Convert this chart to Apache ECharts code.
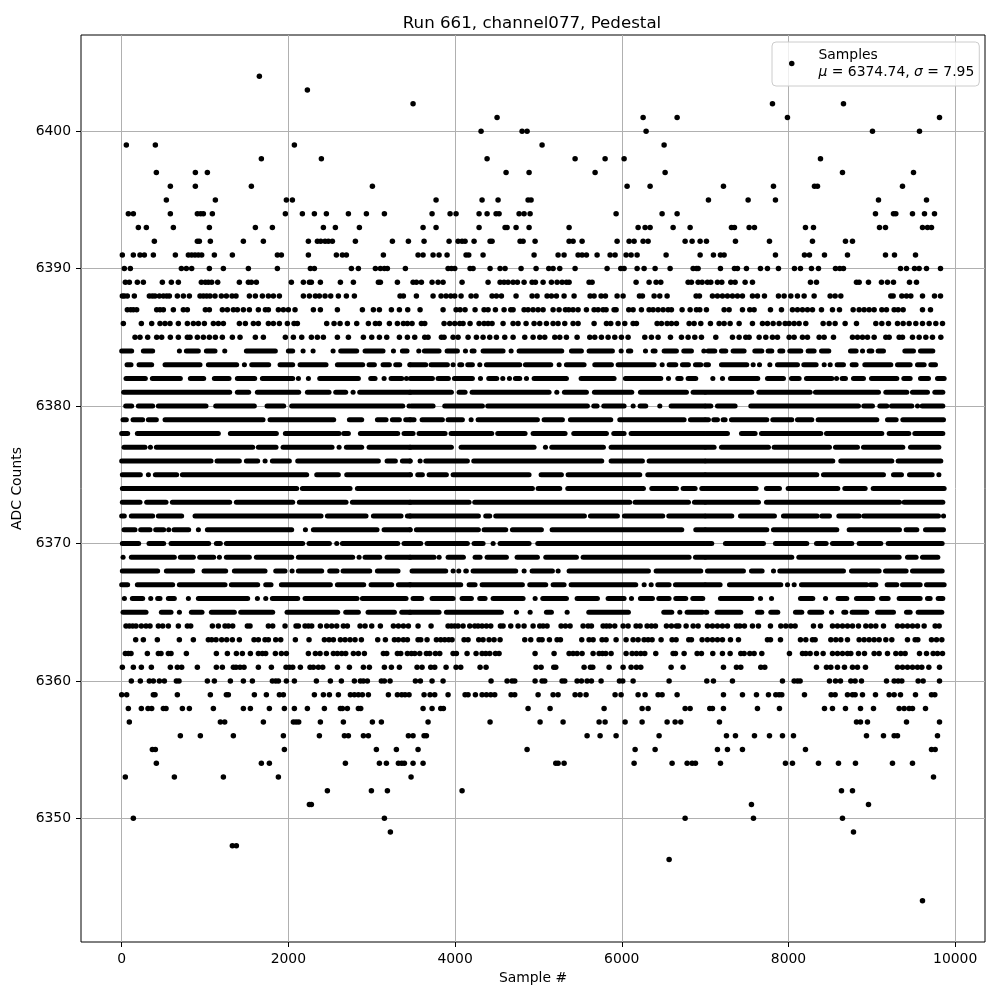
<!DOCTYPE html>
<html lang="en">
<head>
  <meta charset="UTF-8">
  <title>Run 661, channel077, Pedestal</title>
  <script src="https://cdn.jsdelivr.net/npm/echarts@6/dist/echarts.min.js"></script>
  <style>
    body { margin: 0; background: #fff; }
    #chart { width: 1000px; height: 1000px; }
  </style>
</head>
<body>
  <div id="chart"></div>
  <script>
    var xTicks = [0, 2000, 4000, 6000, 8000, 10000];
    var yTicks = [6350, 6360, 6370, 6380, 6390, 6400];

    var pointLevels = [6404, 6403, 6402, 6401, 6400, 6399, 6398, 6397, 6396, 6395, 6394, 6393, 6392, 6391, 6390, 6389, 6388, 6387, 6386, 6385,
      6364, 6363, 6362, 6361, 6360, 6359, 6358, 6357, 6356, 6355, 6354, 6353, 6352, 6351, 6350, 6349, 6348, 6347, 6344];
    var pointSamples = [
      [1652],
      [2228],
      [3496, 7808, 8660],
      [4504, 6256, 6664, 7988, 9812],
      [4312, 4804, 4864, 6292, 9008, 9572],
      [56, 404, 2072, 5044, 6508],
      [1676, 2396, 4384, 5440, 5800, 6028, 8384],
      [416, 884, 1028, 4612, 4888, 5680, 6520, 8648, 9500],
      [584, 884, 1556, 3008, 6064, 6340, 7220, 7820, 8312, 8348, 9368],
      [536, 1124, 1976, 2048, 3772, 4324, 4516, 4876, 4912, 7040, 7516, 7844, 9080, 9656],
      [80, 140, 584, 908, 948, 980, 1088, 1964, 2168, 2312, 2456, 2720, 2936, 3152, 3724, 3940, 4012, 4288, 4384, 4492, 4528, 4768, 4828, 4900, 5932, 6484, 6664, 9044, 9260, 9288, 9488, 9632, 9752],
      [200, 296, 620, 1052, 1604, 1808, 2420, 2564, 2852, 3616, 3772, 4288, 4600, 4624, 4732, 4888, 5368, 6196, 6280, 6340, 6616, 6820, 7316, 7352, 7528, 7592, 8204, 8300, 9092, 9164, 9608, 9668, 9716],
      [392, 908, 932, 1064, 1460, 1700, 2240, 2348, 2388, 2440, 2480, 2528, 2804, 3248, 3440, 3628, 3928, 4036, 4084, 4120, 4228, 4420, 4444, 4780, 4816, 4960, 5368, 5416, 5524, 5944, 6088, 6148, 6256, 6316, 6760, 6844, 6940, 7016, 7364, 7772, 8288, 8684, 8768],
      [8, 140, 220, 272, 380, 644, 800, 840, 880, 920, 960, 1112, 1328, 1868, 1916, 2240, 2576, 2648, 2696, 3140, 3556, 3616, 3736, 3808, 3904, 4132, 4164, 4336, 4948, 5236, 5308, 5476, 5524, 5576, 5704, 5860, 5920, 6052, 6112, 6184, 6532, 6940, 7100, 7184, 7228, 7844, 8192, 8252, 8432, 8708, 9164, 9272, 9524],
      [32, 104, 716, 776, 840, 1052, 1220, 1520, 1868, 2264, 2312, 2756, 2840, 3044, 3104, 3152, 3188, 3404, 3916, 3956, 3996, 4180, 4216, 4420, 4540, 4600, 4792, 4972, 5124, 5176, 5256, 5440, 5824, 5988, 6028, 6184, 6268, 6400, 6580, 6856, 6896, 6916, 7184, 7352, 7388, 7496, 7664, 7748, 7880, 8072, 8144, 8276, 8360, 8564, 8616, 8660, 9344, 9416, 9512, 9568, 9656, 9824],
      [44, 92, 188, 260, 488, 596, 680, 956, 1004, 1040, 1080, 1152, 1412, 1520, 1556, 1616, 2036, 2180, 2252, 2276, 2384, 2624, 2780, 3080, 3104, 3308, 3496, 3536, 3596, 3724, 3796, 3856, 4084, 4396, 4540, 4588, 4636, 4696, 4748, 4828, 4924, 4964, 5056, 5156, 5224, 5284, 5336, 5368, 5608, 5644, 6172, 6328, 6412, 6468, 6796, 6836, 6916, 6964, 7028, 7068, 7148, 7200, 7308, 7360, 7480, 7568, 8264, 8336, 8816, 8848, 8960, 9116, 9188, 9260, 9452, 9536],
      [8, 32, 68, 152, 332, 368, 400, 452, 500, 540, 572, 668, 740, 812, 940, 980, 1020, 1060, 1120, 1196, 1256, 1324, 1372, 1532, 1604, 1688, 1760, 1820, 1892, 2180, 2252, 2324, 2372, 2440, 2508, 2600, 2696, 2792, 3340, 3380, 3536, 3736, 3832, 3892, 3948, 3996, 4072, 4192, 4252, 4444, 4496, 4556, 4732, 4924, 4984, 5104, 5156, 5216, 5308, 5428, 5620, 5668, 5752, 5804, 5944, 6016, 6212, 6248, 6388, 6456, 6544, 6892, 6932, 7088, 7148, 7208, 7268, 7328, 7388, 7448, 7568, 7628, 7712, 7880, 7948, 8028, 8108, 8188, 8308, 8500, 8560, 8628, 9228, 9256, 9360, 9416, 9468, 9608, 9752, 9824],
      [68, 108, 140, 180, 420, 460, 500, 620, 740, 788, 1004, 1052, 1208, 1268, 1340, 1388, 1460, 1532, 1640, 1724, 1760, 1880, 1940, 2000, 2080, 2300, 2384, 2588, 2888, 3020, 3092, 3236, 3332, 3432, 3580, 3856, 4012, 4060, 4120, 4240, 4348, 4396, 4484, 4588, 4668, 4696, 4828, 4876, 4936, 4996, 5056, 5176, 5248, 5324, 5364, 5416, 5476, 5576, 5668, 5716, 5776, 5812, 5908, 5932, 6084, 6136, 6236, 6328, 6376, 6436, 6496, 6556, 6596, 6724, 6820, 6896, 6936, 7016, 7228, 7288, 7448, 7536, 7588, 7784, 7916, 8048, 8108, 8168, 8228, 8288, 8396, 8528, 8612, 8776, 8848, 8908, 8968, 9028, 9120, 9176, 9268, 9316, 9376, 9608, 9704],
      [20, 236, 360, 460, 520, 580, 680, 788, 860, 920, 992, 1100, 1160, 1220, 1412, 1484, 1580, 1640, 1760, 1820, 1892, 1988, 2068, 2108, 2460, 2548, 2620, 2708, 2820, 2960, 3044, 3092, 3212, 3308, 3380, 3428, 3484, 3596, 3636, 3868, 3936, 3996, 4056, 4096, 4180, 4288, 4348, 4396, 4444, 4576, 4696, 4756, 4852, 4948, 5016, 5096, 5176, 5236, 5316, 5416, 5476, 5668, 5816, 5868, 5956, 6036, 6136, 6176, 6424, 6476, 6544, 6596, 6656, 6808, 6868, 6948, 7064, 7168, 7228, 7300, 7408, 7568, 7688, 7748, 7816, 7888, 7960, 8008, 8068, 8128, 8208, 8416, 8488, 8560, 8680, 8816, 9048, 9120, 9200, 9308, 9376, 9448, 9528, 9608, 9688, 9768, 9848],
      [160, 220, 312, 420, 480, 584, 680, 788, 820, 908, 980, 1052, 1124, 1208, 1328, 1420, 1604, 1700, 1964, 2060, 2160, 2276, 2348, 2420, 2588, 2720, 2900, 3000, 3092, 3180, 3332, 3428, 3516, 3636, 3676, 3836, 3868, 3976, 4036, 4156, 4256, 4336, 4416, 4496, 4596, 4696, 4836, 4936, 5016, 5076, 5196, 5256, 5336, 5464, 5616, 5676, 5756, 5836, 5916, 5996, 6076, 6276, 6356, 6436, 6584, 6716, 6796, 6876, 6956, 7128, 7328, 7408, 7488, 7528, 7648, 7728, 7808, 7868, 8008, 8068, 8168, 8228, 8368, 8428, 8540, 8768, 8828, 8888, 8948, 9028, 9168, 9208, 9328, 9368, 9488, 9568, 9648, 9728, 9828],
      [52, 92, 132, 172, 236, 292, 340, 440, 492, 560, 680, 788, 828, 1088, 1160, 1240, 1280, 1332, 1508, 1540, 1760, 1812, 1960, 2092, 2120, 2200, 2240, 2280, 2384, 2460, 2520, 2580, 2660, 2708, 2860, 2920, 3000, 3104, 3260, 3320, 3380, 3440, 3556, 3712, 3916, 3956, 3996, 4036, 4096, 4176, 4236, 4276, 4324, 4376, 4428, 4544, 4576, 4668, 4756, 4828, 4936, 5016, 5056, 5104, 5272, 5324, 5380, 5536, 5596, 5636, 5776, 5816, 5856, 5916, 6016, 6076, 6172, 6220, 6304, 6356, 6404, 6536, 6596, 6656, 6684, 6772, 6856, 6916, 7028, 7088, 7148, 7208, 7268, 7376, 7416, 7472, 7568, 7640, 7784, 7908, 7968, 8028, 8080, 8300, 8384, 8528, 8588, 8648, 8708, 8768, 8840, 8928, 8988, 9048, 9140, 9308, 9368, 9428, 9488, 9548, 9628, 9760, 9808],
      [168, 260, 428, 692, 860, 1040, 1080, 1132, 1200, 1260, 1328, 1412, 1588, 1640, 1720, 1760, 1848, 1908, 2084, 2248, 2432, 2488, 2540, 2624, 2680, 2740, 2800, 2876, 3072, 3164, 3272, 3320, 3380, 3428, 3556, 3588, 3664, 3776, 3828, 3876, 3924, 3964, 4108, 4156, 4284, 4336, 4408, 4468, 4540, 4836, 4908, 5008, 5044, 5132, 5224, 5264, 5520, 5608, 5656, 5764, 5812, 5932, 6052, 6136, 6196, 6268, 6316, 6364, 6472, 6604, 6652, 6804, 6836, 6964, 7028, 7088, 7148, 7208, 7304, 7400, 7748, 7784, 7904, 8144, 8208, 8288, 8320, 8508, 8568, 8628, 8708, 8848, 8908, 8968, 9028, 9088, 9168, 9240, 9428, 9520, 9552, 9716, 9776, 9840],
      [44, 80, 112, 308, 440, 472, 560, 592, 776, 1136, 1268, 1376, 1448, 1544, 1640, 1688, 1728, 1844, 1916, 1976, 2240, 2324, 2380, 2456, 2540, 2588, 2640, 2688, 2780, 2840, 2912, 3140, 3180, 3308, 3348, 3428, 3476, 3516, 3576, 3656, 3696, 3764, 3816, 3976, 4016, 4144, 4252, 4324, 4368, 4416, 4484, 4528, 4960, 5188, 5368, 5416, 5464, 5524, 5656, 5728, 5768, 5808, 5872, 6052, 6124, 6176, 6228, 6276, 6408, 6616, 6644, 6748, 6904, 6956, 7092, 7208, 7300, 7428, 7468, 7536, 7588, 7680, 8012, 8168, 8208, 8260, 8336, 8416, 8528, 8588, 8648, 8708, 8748, 8840, 8912, 9028, 9088, 9188, 9288, 9348, 9400, 9572, 9656, 9736, 9788, 9848],
      [8, 140, 236, 356, 584, 668, 720, 908, 1136, 1208, 1340, 1372, 1420, 1468, 1640, 1796, 1972, 2012, 2052, 2144, 2260, 2300, 2360, 2412, 2588, 2732, 2900, 2972, 3152, 3236, 3332, 3544, 3604, 3708, 3756, 3892, 4012, 4068, 4300, 4372, 4972, 5032, 5184, 5208, 5548, 5624, 5652, 5848, 6016, 6112, 6176, 6228, 6592, 6736, 7220, 7376, 7428, 7668, 7716, 8336, 8456, 8508, 8588, 8672, 8768, 8828, 8924, 9308, 9368, 9428, 9488, 9548, 9600, 9684, 9812],
      [116, 224, 332, 380, 452, 512, 656, 688, 1028, 1112, 1304, 1460, 1568, 1808, 1848, 1880, 1976, 2072, 2336, 2504, 2636, 2792, 2864, 2900, 2948, 3116, 3152, 3220, 3524, 3584, 3724, 3856, 4432, 4624, 4684, 4716, 4960, 5044, 5076, 5284, 5316, 5464, 5516, 5584, 5636, 5752, 5972, 6012, 6136, 6568, 7020, 7100, 7328, 7928, 8068, 8108, 8140, 8492, 8564, 8624, 8748, 8800, 8876, 9176, 9268, 9316, 9360, 9556, 9616, 9812],
      [0, 60, 380, 400, 668, 1064, 1256, 1280, 1592, 1736, 1892, 1940, 2312, 2420, 2492, 2600, 2744, 2792, 2840, 2888, 2960, 3200, 3308, 3360, 3400, 3448, 3628, 3700, 3756, 3916, 4120, 4156, 4244, 4324, 4376, 4428, 4476, 4672, 4716, 4996, 5176, 5236, 5440, 5500, 5572, 5920, 5992, 6196, 6280, 6436, 6484, 6664, 7220, 7448, 7616, 7760, 7848, 7888, 7920, 8192, 8512, 8560, 8708, 8768, 8800, 8888, 9044, 9208, 9268, 9344, 9524, 9716, 9756],
      [80, 236, 316, 360, 500, 532, 728, 812, 1100, 1460, 1544, 1772, 1952, 2072, 2228, 2432, 2624, 2648, 2708, 2840, 2868, 3616, 3724, 3828, 3860, 4876, 5140, 5788, 6244, 6316, 6760, 6820, 7056, 7088, 7220, 7628, 7892, 8432, 8528, 8684, 8864, 9020, 9328, 9388, 9448, 9488, 9644],
      [92, 1184, 1236, 1700, 2060, 2092, 2124, 2384, 2660, 3008, 3116, 3676, 4420, 5020, 5296, 5728, 5800, 6040, 6244, 6544, 6640, 6708, 7172, 8816, 8864, 8948, 9416, 9812],
      [704, 944, 1340, 1940, 2372, 2672, 2720, 2900, 2960, 3440, 3496, 3628, 3656, 5584, 5740, 5932, 6448, 7256, 7364, 7592, 7772, 7928, 8060, 8936, 9140, 9268, 9308, 9788],
      [368, 404, 1952, 3056, 3296, 3556, 4864, 6160, 6400, 7148, 7268, 7448, 8204, 9716, 9760],
      [416, 1676, 1772, 2684, 3092, 3176, 3320, 3360, 3392, 3496, 3616, 5208, 5236, 5308, 6148, 6604, 6784, 6844, 6884, 7184, 7964, 8048, 8360, 8600, 8804, 9248, 9488],
      [44, 632, 1220, 1880, 3472, 9740],
      [2468, 2996, 3188, 4084, 8636, 8768],
      [2252, 2276, 7556, 8960],
      [140, 3152, 6760, 7580, 8648],
      [3224, 8780],
      [1328, 1376],
      [6568],
      [9608]
    ];

    // rows 6384..6365 are almost solid in the picture, single dots merge, so these
    // hold the stretches of unbroken dots: [first, last] sample, or [sample] for a lone dot
    var runLevels = [6384, 6383, 6382, 6381, 6380, 6379, 6378, 6377, 6376, 6375, 6374, 6373, 6372, 6371, 6370, 6369, 6368, 6367, 6366, 6365];
    var runSamples = [
      [[0,120],[260,372],[692],[776,920],[1016,1120],[1236],[1496,1844],[2000,2052],[2176],[2296],[2536],[2628,2820],[2920,3136],[3260],[3368,3424],
       [3564],[3632,3808],[3904,4028],[4124],[4204,4228],[4336,4576],[4672],[4768,5280],[5396,5516],[5608,5888],[5992],[6080,6108],[6284],[6376,6400],[6508,6656],[6744,6836],[6984],
       [7036,7116],[7196,7248],[7336,7468],[7596,7680],[7756,7800],[7896,7932],[8016,8148],[8236,8308],[8396,8484],[8744,8812],[8888],[8968,9000],[9076,9140],[9396,9500],[9584,9732]],
      [[64,112],[208,360],[520,940],[1040,1380],[1472],[1560,1764],[1900,2052],[2140,2452],[2588,2892],[2968,3032],[3136,3212],[3288,3336],[3456],
       [3464,3648],[3712,3908],[3976],[4056,4080],[4152,4208],[4296],[4376,4776],[4844,5148],[5248],[5336,5548],[5676,5876],[5956,6388],[6484],[6568,6648],[6728,6800],[6884,6948],
       [7008,7040],[7196,7500],[7576],[7652],[7776],[7868,8108],[8184,8332],[8428],[8500],[8584,8660],[8764,8812],[8916,9228],[9308,9460],[9548,9628],[9708,9764]],
      [[52,284],[368,704],[824,984],[1112,1288],[1388,1596],[1688,2052],[2120],[2240],[2376,2840],[2988,3040],[3148],[3232,3360],[3416],
       [3464,3728],[3796,3920],[3992,4208],[4304],[4404,4500],[4572],[4652],[4724,4776],[4856],[4948,5336],[5512,5908],[6044,6468],[6560],[6672,6712],[6796,6888],
       [7092],[7208],[7304,7632],[7748,7940],[8036,8128],[8216,8520],[8576],[8644,8684],[8780,8900],[8996,9300],[9384,9460],[9584,9680],[9788,9868]],
      [[24,1296],[1388,1524],[1628,2124],[2228,2488],[2568,2688],[2776],[2856,3460],
       [3460,3956],[4048,4120],[4204,5128],[5220],[5312,5576],[5672,6120],[6224,6776],[6856,6996],
       [7008,7560],[7644,8260],[8324,9080],[9168,9420],[9488,9668],[9756,9852]],
      [[48,120],[200,372],[440,1012],[1128,1592],[1744,1944],[2040,3372],[3448],
       [3476,3736],[3876,4328],[4392,5588],[5664,5704],[5784,6028],[6136],[6220,6288],[6456],[6592,6996],
       [7008,7068],[7148,7360],[7548,8840],[8904,9008],[9096,9180],[9236,9480],[9548],[9604,9852]],
      [[16,56],[136,252],[320,416],[520,1696],[1780,2544],[2732,2880],[3068,3172],[3248,3332],[3408,3460],
       [3460,3508],[3604,3848],[3916,4088],[4192],[4276,4988],[5068,5288],[5384,5868],[5976,6748],[6824,6996],
       [7008,7040],[7104,7148],[7216,7240],[7316,7740],[7812,8040],[8108,8280],[8356,9060],[9188,9292],[9372,9860]],
      [[0,72],[188,1160],[1304,1856],[1964,2608],[2664,2720],[2864,3312],[3388,3460],
       [3460,3496],[3568,3880],[3952,4440],[4512,4840],[4936,5320],[5424,5816],[5904,6028],[6112,6996],
       [7008,7268],[7436,7600],[7676,8388],[8456,9120],[9208,9444],[9516,9852]],
      [[28,280],[344],[416,1572],[1640,1852],[1936,2524],[2608],[2696,2880],[2968,3460],
       [3460,3956],[4072,4948],[5084],[5160,5780],[5872,6996],
       [7008,7108],[7196,7760],[7828,8492],[8564,8828],[8900,9372],[9464,9804]],
      [[0,1072],[1144,1412],[1496,1632],[1720],[1808,2012],[2112,3080],[3184,3284],[3368,3460],
       [3460],[3580],[3648,4148],[4224,5760],[5872,6248],[6328,6996],
       [7008,8532],[8628,9240],[9316,9828]],
      [[8,224],[320],[404,660],[728,2220],[2340,2600],[2700,3460],
       [3464],[3552,3608],[3688,3896],[3976,4888],[5032,5276],[5356,6216],[6312,6996],
       [7008,8340],[8420,9140],[9260,9356],[9452,9724],[9804]],
      [[8,2100],[2168,2740],[2828,3460],
       [3460,4928],[4996,5256],[5352,6260],[6360,6656],[6736,6880],[6960,6996],
       [7008,7612],[7736,7892],[7996,8592],[8676,8920],[9016,9868]],
      [[8,220],[300,532],[608,1296],[1376,2052],[2132,2692],[2768,3460],
       [3460,4168],[4236,6096],[6160,6800],[6872,6996],
       [7008,7640],[7736,9332],[9388,9852]],
      [[0,32],[116,372],[440,720],[880,2392],[2468,2932],[3020,3352],[3428,3460],
       [3460,4280],[4368,4416],[4488,5552],[5624,5948],[6032,6492],[6564,6996],
       [7008,7320],[7424,7832],[7940,8344],[8400,8492],[8604,8848],[8904,9800],[9860]],
      [[28,160],[228,340],[408,504],[564],[628,804],[920],[1028,2040],[2204],[2300,3064],[3148,3460],
       [3460],[3536,4280],[4348,4608],[4688,5036],[5164,6720],[6888,6996],
       [7008,7740],[7820,8580],[8728,9332],[9412,9540],[9644,9860]],
      [[8,204],[328,504],[592,1044],[1136,1184],[1256,2172],[2248,2492],[2580],[2648,3312],[3388,3460],
       [3460,3588],[3664,4148],[4228,4336],[4456],[4540,4888],[4992,6996],
       [7008,7080],[7244,7700],[7844,8220],[8336,8452],[8528,8760],[8848,9108],[9196,9844]],
      [[16],[116,632],[704,860],[936,1104],[1172],[1256,1532],[1616,2040],[2120,2772],[2848],[2920,3096],[3184,3460],
       [3460,3748],[3808],[3916,4100],[4240,4300],[4384,4616],[4744,4988],[5088,5456],[5536,6808],[6884,6996],
       [7008,8040],[8124,9328],[9428,9532],[9608,9792]],
      [[8,432],[536,852],[988,1248],[1352,1720],[1848,1960],[2044],[2120,2400],[2496,2584],[2656,2976],[3068,3316],
       [3484,3888],[3976],[4044],[4128,4136],[4216,4728],[4828],[4924,5168],[5236],[5368,6320],[6412,6948],
       [7028,7460],[7556,7684],[7820],[7896,8660],[8756,9088],[9164,9412],[9488,9844]],
      [[0,72],[188,612],[692,1240],[1316,1632],[1728,1792],[1916,2504],[2588,2904],[2992,3240],[3320,3460],
       [3460,4068],[4168,4240],[4324,4808],[4896,5088],[5176,5308],[5392,6168],[6268],[6352],[6432,6568],[6644,6996],
       [7008,7180],[7292,7908],[7988],[8068],[8156,8940],[8984,9048],[9184,9300],[9368,9580],[9656,9868]],
      [[32],[128,252],[348],[432,460],[560,632],[800],[920,1512],[1628],[1728],[1808,2112],[2200,2824],[2888,3412],
       [3496,3600],[3724,3976],[4084,4196],[4296,4360],[4456,4816],[4960],[5052,5336],[5464,5708],[5836,6028],[6116],[6224,6368],[6444,6568],[6648,6768],[6852,6972],
       [7184,7560],[7664],[7796],[8144,8292],[8444],[8596,8700],[8816,9012],[9116,9196],[9328,9580],[9668,9700],[9796,9852]],
      [[16,292],[476,592],[692],[836,964],[1076,1352],[1428,1812],[1984,2592],[2688,2840],[2956,3272],[3360,3460],
       [3460,3808],[3896,4556],[4736],[4900],[5096,5156],[5344],[5604,6080],[6504,6600],[6696],[6784,6968],
       [7008,7020],[7144,7428],[7628,7680],[7788,7872],[8084,8160],[8256,8400],[8516],[8664,8688],[8764,8940],[9068,9260],[9416,9460],[9556,9840]]
    ];

    var dotSize = 5.5;
    var tickFont = { fontFamily: 'DejaVu Sans', fontSize: 13.9, color: '#000' };

    var pointData = [];
    pointLevels.forEach(function (level, i) {
      pointSamples[i].forEach(function (s) { pointData.push([s, level]); });
    });
    var runData = [];
    runLevels.forEach(function (level, i) {
      runSamples[i].forEach(function (r) { runData.push([r[0], r[r.length - 1], level]); });
    });

    function axisCommon(ticks) {
      return {
        type: 'value',
        nameLocation: 'middle',
        nameTextStyle: tickFont,
        axisLine: { show: false, onZero: false },
        axisTick: { show: true, customValues: ticks, length: 5, lineStyle: { color: '#000', width: 1 } },
        axisLabel: {
          customValues: ticks,
          margin: 10,
          fontFamily: 'DejaVu Sans',
          fontSize: 13.9,
          color: '#000',
          hideOverlap: false,
          formatter: function (v) { return String(v); }
        },
        splitLine: { show: true, lineStyle: { color: '#b0b0b0', width: 1 } }
      };
    }

    var chart = echarts.init(document.getElementById('chart'));
    chart.setOption({
      animation: false,
      title: {
        text: 'Run 661, channel077, Pedestal',
        left: 527,
        top: 10,
        textAlign: 'center',
        textStyle: { fontFamily: 'DejaVu Sans', fontSize: 16.67, fontWeight: 'normal', color: '#000' }
      },
      grid: { left: 81, right: 15, top: 35, bottom: 58, show: true, borderColor: '#000', borderWidth: 1, backgroundColor: '#fff' },
      xAxis: Object.assign(axisCommon(xTicks), { min: -488, max: 10358, name: 'Sample #', nameGap: 29 }),
      yAxis: Object.assign(axisCommon(yTicks), { min: 6341, max: 6407, name: 'ADC Counts', nameGap: 46 }),
      legend: {
        left: 772,
        top: 42,
        padding: [6, 5, 7, 17],
        data: ['Samples'],
        icon: 'circle',
        itemWidth: dotSize,
        itemHeight: dotSize,
        backgroundColor: 'rgba(255,255,255,0.8)',
        borderColor: '#ccc',
        borderWidth: 1,
        borderRadius: 4,
        formatter: function () {
          return '{t|Samples}\n{i|μ}{t| = 6374.74, }{i|σ}{t| = 7.95}';
        },
        textStyle: {
          rich: {
            t: { fontFamily: 'DejaVu Sans', fontSize: 13.9, color: '#000', lineHeight: 17 },
            i: { fontFamily: 'DejaVu Sans', fontSize: 13.9, fontStyle: 'italic', color: '#000', lineHeight: 17 }
          },
          padding: [0, 0, 0, 19]
        }
      },
      series: [
        {
          name: 'Samples',
          type: 'scatter',
          data: pointData,
          symbol: 'circle',
          symbolSize: dotSize,
          itemStyle: { color: '#000', opacity: 1 }
        },
        {
          name: 'runs',
          type: 'custom',
          data: runData,
          encode: { x: [0, 1], y: 2 },
          renderItem: function (params, api) {
            var a = api.coord([api.value(0), api.value(2)]);
            var b = api.coord([api.value(1), api.value(2)]);
            return {
              type: 'line',
              shape: { x1: a[0], y1: a[1], x2: Math.max(b[0], a[0] + 0.1), y2: b[1] },
              style: { stroke: '#000', lineWidth: 5, lineCap: 'round' }
            };
          }
        }
      ]
    });
  </script>
</body>
</html>
